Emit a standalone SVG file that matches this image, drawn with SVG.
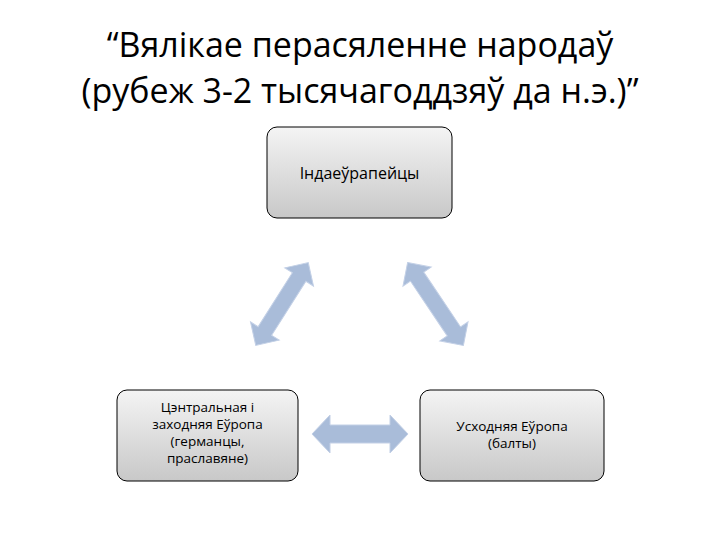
<svg xmlns="http://www.w3.org/2000/svg" width="720" height="540" viewBox="0 0 720 540">
<defs>
<linearGradient id="g" x1="0" y1="0" x2="0" y2="1"><stop offset="0" stop-color="#f4f4f4"/><stop offset="1" stop-color="#c8c8c8"/></linearGradient>
<style>
.box{fill:url(#g);stroke:#000;stroke-width:1}
.t{font-family:"Open Sans","Liberation Sans",sans-serif;fill:#000;text-anchor:middle}
.ar{fill:#a9bcd9;stroke:#c3d0e6;stroke-width:1}
</style>
</defs>
<rect width="720" height="540" fill="#fff"/>
<g id="title" class="t" style="font-size:34px">
<text x="360" y="57">“Вялікае перасяленне народаў</text>
<text x="360" y="103">(рубеж 3-2 тысячагоддзяў да н.э.)”</text>
</g>
<g id="connectors">
<polygon class="ar" transform="translate(282,304) rotate(-57.6)" points="-49,0 -32,-17 -32,-8 32,-8 32,-17 49,0 32,17 32,8 -32,8 -32,17"/>
<polygon class="ar" transform="translate(435.5,304) rotate(56.1)" points="-50,0 -33,-17 -33,-8 33,-8 33,-17 50,0 33,17 33,8 -33,8 -33,17"/>
<polygon class="ar" transform="translate(360,434)" points="-48,0 -30,-19 -30,-9 30,-9 30,-19 48,0 30,19 30,9 -30,9 -30,19"/>
</g>
<g id="n1">
<rect class="box" x="267" y="127" width="185" height="91" rx="10"/>
<text class="t" x="359.5" y="179" style="font-size:16px">Індаеўрапейцы</text>
</g>
<g id="n2">
<rect class="box" x="117" y="390" width="181" height="91" rx="10"/>
<text class="t" style="font-size:13.5px"><tspan x="207.5" y="412">Цэнтральная і</tspan><tspan x="207.5" y="429">заходняя Еўропа</tspan><tspan x="207.5" y="446">(германцы,</tspan><tspan x="207.5" y="463">праславяне)</tspan></text>
</g>
<g id="n3">
<rect class="box" x="420" y="390" width="184" height="91" rx="10"/>
<text class="t" style="font-size:13.5px"><tspan x="512" y="431">Усходняя Еўропа</tspan><tspan x="512" y="448">(балты)</tspan></text>
</g>
</svg>
